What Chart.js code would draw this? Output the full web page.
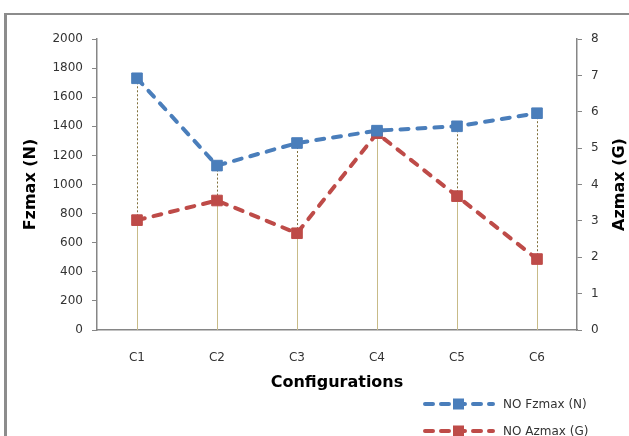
<!DOCTYPE html>
<html>
<head>
<meta charset="utf-8">
<script src="https://cdn.jsdelivr.net/npm/chart.js"></script>
<style>
    html, body { margin: 0; padding: 0; background: #fff; }
    #wrap { position: relative; width: 629px; height: 436px; overflow: hidden; }
    #frame { position: absolute; left: 4px; top: 13px; width: 640px; height: 440px;
             border-top: 2px solid #8c8c8c; border-left: 3px solid #8c8c8c; }
    #myChart { position: absolute; left: 0; top: 0; }
    #legend { position: absolute; left: 423px; top: 390px; font-family: 'DejaVu Sans', sans-serif;
              font-size: 12px; color: #333; }
    .row { display: flex; align-items: center; height: 27px; }
    .row svg { margin-right: 8px; }
</style>
</head>
<body>
<div id="wrap">
    <div id="frame"></div>
    <canvas id="myChart" width="629" height="436"></canvas>
    <div id="legend"></div>
</div>
<script>
const categories = ['C1', 'C2', 'C3', 'C4', 'C5', 'C6'];
const fzmax = [1730, 1130, 1285, 1370, 1400, 1490];   // N, left axis
const azmax = [3.02, 3.56, 2.66, 5.41, 3.68, 1.95];   // G, right axis
const seriesNames = ['NO Fzmax (N)', 'NO Azmax (G)'];
const seriesColors = ['#4a7ebb', '#be4b48'];
const fzTicks = [0, 200, 400, 600, 800, 1000, 1200, 1400, 1600, 1800, 2000];
const azTicks = [0, 1, 2, 3, 4, 5, 6, 7, 8];

const tickFont = { family: 'DejaVu Sans', size: 12 };
const titleFont = { family: 'DejaVu Sans', size: 16, weight: 'bold' };
const axisGray = '#868686';

// lignes verticales de chaque point jusqu'a l'axe (comme les "drop lines" d'Excel)
const dropLines = {
    id: 'dropLines',
    beforeDatasetsDraw(chart) {
        const ctx = chart.ctx;
        const bottom = chart.chartArea.bottom;
        const styles = [
            { color: '#7f6f3a', dash: [2, 2], width: 1 },
            { color: '#c8bb88', dash: [], width: 1 }
        ];
        chart.data.datasets.forEach((ds, i) => {
            const meta = chart.getDatasetMeta(i);
            ctx.save();
            ctx.strokeStyle = styles[i].color;
            ctx.lineWidth = styles[i].width;
            ctx.setLineDash(styles[i].dash);
            meta.data.forEach(pt => {
                const x = Math.round(pt.x) + 0.5;
                ctx.beginPath();
                ctx.moveTo(x, pt.y);
                ctx.lineTo(x, bottom);
                ctx.stroke();
            });
            ctx.restore();
        });
    }
};

// titre de l'axe de droite, lu de bas en haut
const rightTitle = {
    id: 'rightTitle',
    afterDraw(chart) {
        const ctx = chart.ctx;
        const area = chart.chartArea;
        ctx.save();
        ctx.translate(620, (area.top + area.bottom) / 2);
        ctx.rotate(-Math.PI / 2);
        ctx.font = 'bold 16px "DejaVu Sans"';
        ctx.fillStyle = '#000';
        ctx.textAlign = 'center';
        ctx.textBaseline = 'middle';
        ctx.fillText('Azmax (G)', 0, 0);
        ctx.restore();
    }
};

const datasets = [fzmax, azmax].map((values, i) => ({
    label: seriesNames[i],
    data: values,
    yAxisID: i === 0 ? 'y' : 'y1',
    borderColor: seriesColors[i],
    backgroundColor: seriesColors[i],
    pointBackgroundColor: seriesColors[i],
    pointBorderColor: seriesColors[i],
    borderWidth: 4,
    borderDash: [8, 9],
    borderCapStyle: 'round',
    pointStyle: 'rect',
    pointRadius: 7.5,
    pointBorderWidth: 1,
    tension: 0,
    fill: false
}));

const ctx = document.getElementById('myChart').getContext('2d');
new Chart(ctx, {
    type: 'line',
    data: { labels: categories, datasets: datasets },
    options: {
        responsive: false,
        animation: false,
        layout: { padding: { top: 39, left: 0, right: 0, bottom: 0 } },
        plugins: {
            legend: { display: false },
            tooltip: { enabled: false }
        },
        scales: {
            x: {
                offset: true,
                grid: { display: false },
                border: { color: axisGray, width: 1.5 },
                ticks: { font: tickFont, color: '#333', padding: 13 },
                title: {
                    display: true, text: 'Configurations', font: titleFont, color: '#000',
                    padding: { top: 0, bottom: 44 }
                },
                afterFit: s => { s.height = 106; }
            },
            y: {
                position: 'left',
                min: 0, max: 2000,
                afterBuildTicks: s => { s.ticks = fzTicks.map(v => ({ value: v })); },
                grid: { drawOnChartArea: false, drawTicks: true, tickLength: 5, color: axisGray },
                border: { color: axisGray, width: 1.5 },
                ticks: { font: tickFont, color: '#333', padding: 9, callback: v => String(v) },
                title: {
                    display: true, text: 'Fzmax (N)', font: titleFont, color: '#000',
                    padding: { top: 21, bottom: 0 }
                },
                afterFit: s => { s.width = 97; }
            },
            y1: {
                position: 'right',
                min: 0, max: 8,
                afterBuildTicks: s => { s.ticks = azTicks.map(v => ({ value: v })); },
                grid: { drawOnChartArea: false, drawTicks: true, tickLength: 5, color: axisGray },
                border: { color: axisGray, width: 1.5 },
                ticks: { font: tickFont, color: '#333', padding: 9, callback: v => String(v) },
                afterFit: s => { s.width = 52; }
            }
        }
    },
    plugins: [dropLines, rightTitle]
});

// legende en HTML, deux lignes en bas a droite
const legend = document.getElementById('legend');
seriesNames.forEach((name, i) => {
    const c = seriesColors[i];
    const row = document.createElement('div');
    row.className = 'row';
    row.innerHTML =
        '<svg width="72" height="14">' +
        '<line x1="2" y1="7" x2="70" y2="7" stroke="' + c + '" stroke-width="4" stroke-dasharray="8 8" stroke-linecap="round"/>' +
        '<rect x="30" y="1.5" width="11" height="11" fill="' + c + '"/></svg>' +
        '<span>' + name + '</span>';
    legend.appendChild(row);
});
</script>
</body>
</html>
